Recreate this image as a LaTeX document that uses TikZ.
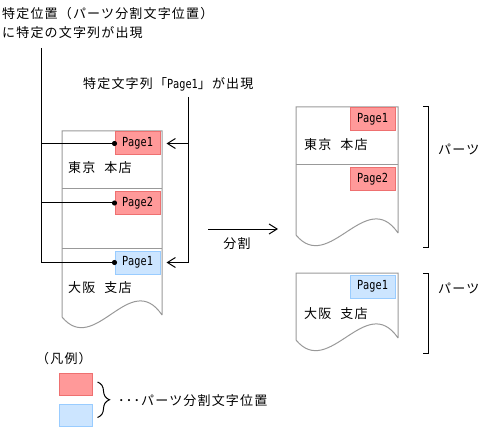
\documentclass[tikz,border=0pt]{standalone}
\usepackage{fontspec}
\setmainfont[LetterSpace=9]{Noto Sans CJK JP}
\newfontfamily\tagfont[FakeStretch=0.82]{DejaVu Sans Mono}
\usetikzlibrary{arrows.meta,positioning,decorations.pathreplacing}

\definecolor{tagpink}{HTML}{FF9999}
\definecolor{tagpinkline}{HTML}{EE7070}
\definecolor{tagblue}{HTML}{CCE5FF}
\definecolor{tagblueline}{HTML}{99CCFF}

\tikzset{
  paper/.style={draw=gray!80,line width=1pt},
  pagered/.style={draw=tagpinkline,fill=tagpink,line width=1pt,minimum width=45pt,
    minimum height=23pt,inner sep=0pt,font=\tagfont\fontsize{12.5}{12.5}\selectfont},
  pageblue/.style={pagered,draw=tagblueline,fill=tagblue},
  jp/.style={font=\fontsize{13}{18}\selectfont,inner sep=0pt,anchor=base west},
  conn/.style={line width=1pt,-{Straight Barb[length=8pt,width=10pt]}},
  brk/.style={line width=1pt},
}

% left x, right x, top y, bottom y
\newcommand{\paperdoc}[4]{%
  \draw[paper] (#2,#4-2) -- (#2,#3) -- (#1,#3) -- (#1,#4)
    .. controls +(33,40) and +(-32,-47) .. (#2,#4-2);}
\newcommand{\gap}{\kern5pt\ }

\begin{document}
\begin{tikzpicture}[x=1pt,y=-1pt]
  \useasboundingbox (0,0) rectangle (497,438);

  \node[jp] (title1) at (2,19) {特定位置（パーツ分割文字位置）};
  \node[jp] (title2) at (2,37.5) {に特定の文字列が出現};
  \node[jp] (found) at (83,89) {特定文字列「{\tagfont\fontsize{12.5}{12.5}\selectfont Page1}」が出現};

  % source document
  \paperdoc{62}{162}{131}{317}
  \draw[paper] (62,189) -- (162,189);
  \draw[paper] (62,248) -- (162,248);
  \node[pagered] (lp1) at (137.5,143.5) {Page1};
  \node[pagered] (lp2) at (137.5,203) {Page2};
  \node[pageblue] (lp3) at (137.5,262.5) {Page1};
  \node[jp] (ltokyo) at (68,173) {東京\gap 本店};
  \node[jp] (losaka) at (68,292) {大阪\gap 支店};

  \coordinate (ltop) at (41,48);
  \draw[line width=1pt] (ltop) |- (lp3.west);
  \draw[line width=1pt] (lp1.west -| ltop) -- (lp1.west);
  \draw[line width=1pt] (lp2.west -| ltop) -- (lp2.west);
  \foreach \t in {lp1,lp2,lp3}
    \fill (\t.west) circle (2.6pt);

  \coordinate (rtop) at (188,97);
  \draw[conn] (rtop) |- ([xshift=6pt]lp3.east);
  \draw[conn] (lp1.east -| rtop) -- ([xshift=6pt]lp1.east);

  % split
  \coordinate (splitL) at (208,229);
  \coordinate (splitR) at (278,229);
  \draw[conn] (splitL) -- (splitR);
  \node[jp,anchor=base] (splitlbl) at (237,248) {分割};

  % parts
  \paperdoc{296}{398}{107}{235}
  \draw[paper] (296,165) -- (398,165);
  \node[pagered] (rp1) at (372.5,119.5) {Page1};
  \node[pagered] (rp2) at (372.5,179.5) {Page2};
  \node[jp] (rtokyo) at (304,150) {東京\gap 本店};

  \paperdoc{296}{398}{273}{340}
  \node[pageblue] (rp3) at (372.5,286.5) {Page1};
  \node[jp] (rosaka) at (304,318) {大阪\gap 支店};

  \draw[brk] (423,107) -| (428,247) -- (423,247);
  \draw[brk] (423,273) -| (428,353) -- (423,353);
  \node[jp] (part1) at (438,155) {パーツ};
  \node[jp] (part2) at (438,293) {パーツ};

  % legend
  \node[jp] (legend) at (36,363) {（凡例）};
  \node[draw=tagpinkline,fill=tagpink,line width=1pt,minimum width=33pt,minimum height=22pt,inner sep=0pt] (keyred) at (75.5,384) {};
  \node[draw=tagblueline,fill=tagblue,line width=1pt,minimum width=33pt,minimum height=22pt,inner sep=0pt] (keyblue) at (75.5,415.5) {};
  \draw[brk,decorate,decoration={brace,amplitude=12pt}]
    ([xshift=5pt,yshift=2pt]keyred.east) -- ([xshift=5pt,yshift=-2pt]keyblue.east);
  \node[jp] (keytext) at (118,405) {･･･パーツ分割文字位置};
\end{tikzpicture}
\end{document}
